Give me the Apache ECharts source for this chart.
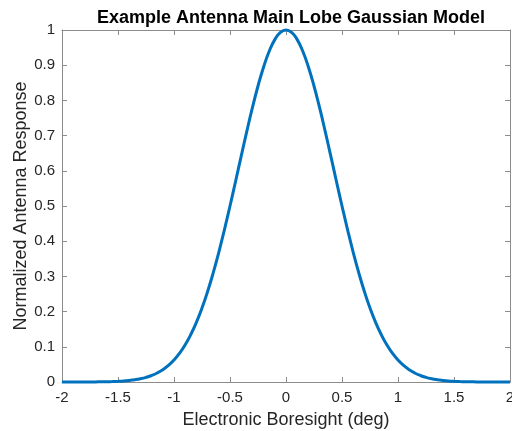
<!DOCTYPE html>
<html>
<head>
<meta charset="utf-8">
<script src="https://cdn.jsdelivr.net/npm/echarts@6/dist/echarts.min.js"></script>
<style>html,body{margin:0;padding:0;background:#fff}#c{width:512px;height:431px}</style>
</head>
<body>
<div id="c"></div>
<script>
const titleText = 'Example Antenna Main Lobe Gaussian Model';
const xName = 'Electronic Boresight (deg)';
const yName = 'Normalized Antenna Response';
const xValues = [-2.00,-1.95,-1.90,-1.85,-1.80,-1.75,-1.70,-1.65,-1.60,-1.55,-1.50,-1.45,-1.40,-1.35,-1.30,-1.25,-1.20,-1.15,-1.10,-1.05,-1.00,-0.95,-0.90,-0.85,-0.80,-0.75,-0.70,-0.65,-0.60,-0.55,-0.50,-0.45,-0.40,-0.35,-0.30,-0.25,-0.20,-0.15,-0.10,-0.05,0.00,0.05,0.10,0.15,0.20,0.25,0.30,0.35,0.40,0.45,0.50,0.55,0.60,0.65,0.70,0.75,0.80,0.85,0.90,0.95,1.00,1.05,1.10,1.15,1.20,1.25,1.30,1.35,1.40,1.45,1.50,1.55,1.60,1.65,1.70,1.75,1.80,1.85,1.90,1.95,2.00];
const response = [0.0000,0.0000,0.0000,0.0000,0.0001,0.0002,0.0003,0.0005,0.0008,0.0013,0.0020,0.0029,0.0044,0.0064,0.0092,0.0131,0.0185,0.0256,0.0349,0.0470,0.0625,0.0819,0.1058,0.1350,0.1696,0.2102,0.2570,0.3100,0.3686,0.4323,0.5000,0.5704,0.6417,0.7120,0.7792,0.8409,0.8950,0.9395,0.9727,0.9931,1.0000,0.9931,0.9727,0.9395,0.8950,0.8409,0.7792,0.7120,0.6417,0.5704,0.5000,0.4323,0.3686,0.3100,0.2570,0.2102,0.1696,0.1350,0.1058,0.0819,0.0625,0.0470,0.0349,0.0256,0.0185,0.0131,0.0092,0.0064,0.0044,0.0029,0.0020,0.0013,0.0008,0.0005,0.0003,0.0002,0.0001,0.0000,0.0000,0.0000,0.0000];

const axisGrey = '#8c8c8c';
const textCol = '#262626';
const fontFam = '"Liberation Sans", Helvetica, Arial, sans-serif';

const chart = echarts.init(document.getElementById('c'), null, {renderer: 'canvas'});
const baseX = {
  type: 'value', min: -2, max: 2, interval: 0.5,
  axisLine: {show: true, onZero: false, lineStyle: {color: axisGrey, width: 1}},
  axisTick: {show: true, inside: true, length: 5, lineStyle: {color: axisGrey}},
  splitLine: {show: false}
};
const baseY = {
  type: 'value', min: 0, max: 1, interval: 0.1,
  axisLine: {show: true, onZero: false, lineStyle: {color: axisGrey, width: 1}},
  axisTick: {show: true, inside: true, length: 5, lineStyle: {color: axisGrey}},
  splitLine: {show: false}
};
chart.setOption({
  animation: false,
  backgroundColor: '#fff',
  title: {
    text: titleText, left: 286, top: 4, textAlign: 'center',
    textStyle: {fontFamily: fontFam, fontSize: 18, fontWeight: 'bold', color: '#000'}
  },
  grid: {left: 62, right: 2, top: 30, bottom: 49, containLabel: false, outerBoundsMode: 'none'},
  xAxis: [
    Object.assign({}, baseX, {
      position: 'bottom',
      name: xName, nameLocation: 'middle', nameGap: 29, nameMoveOverlap: false,
      nameTextStyle: {fontFamily: fontFam, fontSize: 18, color: textCol},
      axisLabel: {show: true, margin: 8, fontFamily: fontFam, fontSize: 15, color: textCol,
        hideOverlap: false, showMinLabel: true, showMaxLabel: true,
        formatter: v => String(v)}
    }),
    Object.assign({}, baseX, {position: 'top', axisLabel: {show: false}})
  ],
  yAxis: [
    Object.assign({}, baseY, {
      position: 'left',
      name: yName, nameLocation: 'middle', nameGap: 32, nameMoveOverlap: false,
      nameTextStyle: {fontFamily: fontFam, fontSize: 18, color: textCol},
      axisLabel: {show: true, margin: 7, fontFamily: fontFam, fontSize: 15, color: textCol,
        formatter: v => String(v)}
    }),
    Object.assign({}, baseY, {position: 'right', axisLabel: {show: false}})
  ],
  series: [{
    type: 'line',
    xAxisIndex: 0, yAxisIndex: 0,
    data: xValues.map((x, i) => [x, response[i]]),
    showSymbol: false, smooth: true,
    lineStyle: {color: '#0072BD', width: 3},
    clip: false
  }]
});
</script>
</body>
</html>
